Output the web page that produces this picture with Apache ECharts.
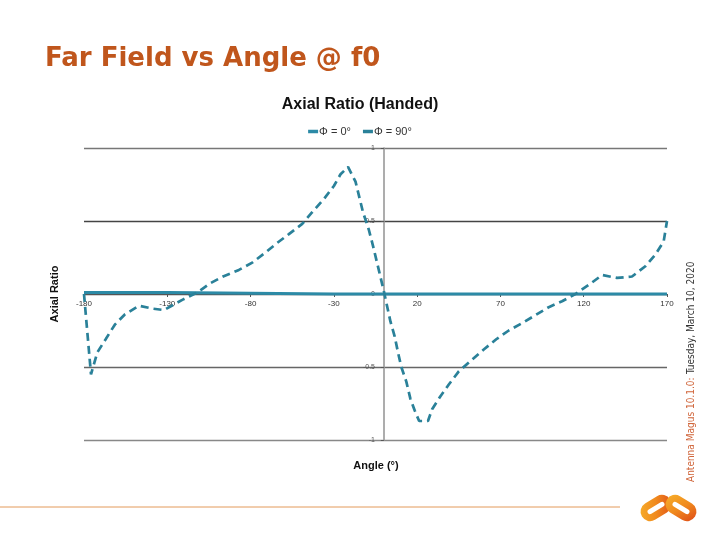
<!DOCTYPE html>
<html>
<head>
<meta charset="utf-8">
<script src="https://cdn.jsdelivr.net/npm/echarts@6/dist/echarts.min.js"></script>
<style>html,body{margin:0;padding:0;background:#fff;}#c{width:720px;height:540px;}</style>
</head>
<body>
<div id="c"></div>
<script>
// ---- data ----
const xTicks = [-180, -130, -80, -30, 20, 70, 120, 170];
const yTicks = [-1, -0.5, 0, 0.5, 1];

const phi0Angles = [-180, -130, -80, -30, 20, 70, 120, 170];
const phi0Values = [0.01, 0.01, 0.005, 0, 0, 0, 0, 0];

const phi90Angles = [-180, -175.8, -172, -167, -161.5, -155.5, -147, -139, -132, -121, -112, -104, -96.5, -87, -79, -71, -64, -57, -49, -43, -36, -30, -26, -21.5, -17, -12.5, -9, -6.5, -2.5, 0, 4, 6.5, 8.5, 10.5, 13.5, 16, 18.6, 21.2, 26.5, 29, 34, 39, 45, 52, 60, 67.5, 75, 83, 91, 99, 107, 115, 124, 131, 140, 149, 157, 163, 168, 170];
const phi90Values = [0, -0.55, -0.40, -0.31, -0.21, -0.14, -0.08, -0.10, -0.11, -0.04, 0.01, 0.075, 0.12, 0.165, 0.215, 0.285, 0.35, 0.41, 0.48, 0.56, 0.65, 0.74, 0.82, 0.87, 0.77, 0.56, 0.44, 0.33, 0.14, 0.02, -0.19, -0.29, -0.40, -0.50, -0.60, -0.72, -0.80, -0.87, -0.87, -0.79, -0.70, -0.62, -0.53, -0.46, -0.38, -0.31, -0.25, -0.20, -0.145, -0.09, -0.05, 0.0, 0.07, 0.13, 0.11, 0.12, 0.19, 0.27, 0.36, 0.50];

const seriesNames = ['\u03A6 = 0\u00B0', '\u03A6 = 90\u00B0'];

const pair = (a, v) => a.map((x, i) => [x, v[i]]);
const F = 'Liberation Sans, Arial, sans-serif';

const chart = echarts.init(document.getElementById('c'), null, {renderer: 'canvas'});
const logoGrad = {type: 'linear', x: 0, y: 0, x2: 1, y2: 1, colorStops: [
  {offset: 0, color: '#f7b02a'}, {offset: 0.5, color: '#f08a1e'}, {offset: 1, color: '#de4a16'}]};

chart.setOption({
  animation: false,
  backgroundColor: '#fff',
  title: [
    {text: 'Far Field vs Angle @ f0', left: 40, top: 41,
     textStyle: {color: '#c0561c', fontSize: 26, fontWeight: 'bold', fontFamily: 'DejaVu Sans, sans-serif'}},
    {text: 'Axial Ratio (Handed)', left: 'center', top: 92,
     textStyle: {fontSize: 16, fontWeight: 'bold', color: '#111', fontFamily: F}}
  ],
  legend: {
    top: 121, left: 'center', itemWidth: 10, itemHeight: 3.5, itemGap: 12, icon: 'rect',
    textStyle: {fontSize: 11, color: '#333', fontFamily: F, padding: [0, 0, 0, -4]},
    data: seriesNames
  },
  grid: {left: 84, right: 53, top: 148, bottom: 100, containLabel: false},
  xAxis: {
    type: 'value', min: -180, max: 170,
    axisLine: {onZero: true, lineStyle: {color: '#555', width: 1}},
    axisTick: {show: true, customValues: xTicks, length: 3, lineStyle: {color: '#555'}},
    axisLabel: {customValues: xTicks, fontSize: 8, color: '#333', fontFamily: F, margin: -140},
    splitLine: {show: false}
  },
  yAxis: {
    type: 'value', min: -1, max: 1, interval: 0.5,
    axisLine: {show: true, onZero: true, lineStyle: {color: '#999', width: 1.6}},
    axisTick: {show: true, length: 3, lineStyle: {color: '#555'}},
    axisLabel: {fontSize: 7, color: '#555', fontFamily: F, margin: -291},
    splitLine: {show: true, lineStyle: {color: ['#888', '#666', '#555', '#444', '#777'], width: 1.4}}
  },
  series: [
    {name: seriesNames[0], type: 'line', showSymbol: false, z: 3,
     data: pair(phi0Angles, phi0Values),
     itemStyle: {color: '#2c8aa6'},
     lineStyle: {color: '#2c8aa6', width: 3}},
    {name: seriesNames[1], type: 'line', showSymbol: false, z: 4,
     data: pair(phi90Angles, phi90Values),
     itemStyle: {color: '#2a8199'},
     lineStyle: {color: '#2a8199', width: 2.7, type: [8, 5]}}
  ],
  graphic: [
    {type: 'text', x: 55, y: 294, rotation: Math.PI / 2,
     style: {text: 'Axial Ratio', fontSize: 11, fontWeight: 'bold', fill: '#111', fontFamily: F,
             textAlign: 'center', textVerticalAlign: 'middle'}},
    {type: 'text', x: 376, y: 466,
     style: {text: 'Angle (\u00B0)', fontSize: 11, fontWeight: 'bold', fill: '#111', fontFamily: F,
             textAlign: 'center', textVerticalAlign: 'middle'}},
    {type: 'text', x: 691, y: 482, rotation: Math.PI / 2,
     style: {text: '{a|Antenna Magus 10.1.0:} {b|Tuesday, March 10, 2020}',
             textAlign: 'left', textVerticalAlign: 'middle',
             rich: {a: {fill: '#d0653a', fontSize: 10, fontFamily: 'DejaVu Sans Condensed, sans-serif'},
                    b: {fill: '#333', fontSize: 10, fontFamily: 'DejaVu Sans Condensed, sans-serif'}}}},
    {type: 'line', shape: {x1: 0, y1: 507, x2: 620, y2: 507},
     style: {stroke: '#e39a5a', lineWidth: 1}},
    {type: 'rect', x: 656, y: 508, rotation: 0.55,
     shape: {x: -13, y: -6, width: 26, height: 12, r: 6},
     style: {fill: 'none', stroke: logoGrad, lineWidth: 7}},
    {type: 'rect', x: 681, y: 508, rotation: -0.55,
     shape: {x: -13, y: -6, width: 26, height: 12, r: 6},
     style: {fill: 'none', stroke: logoGrad, lineWidth: 7}}
  ]
});
</script>
</body>
</html>
